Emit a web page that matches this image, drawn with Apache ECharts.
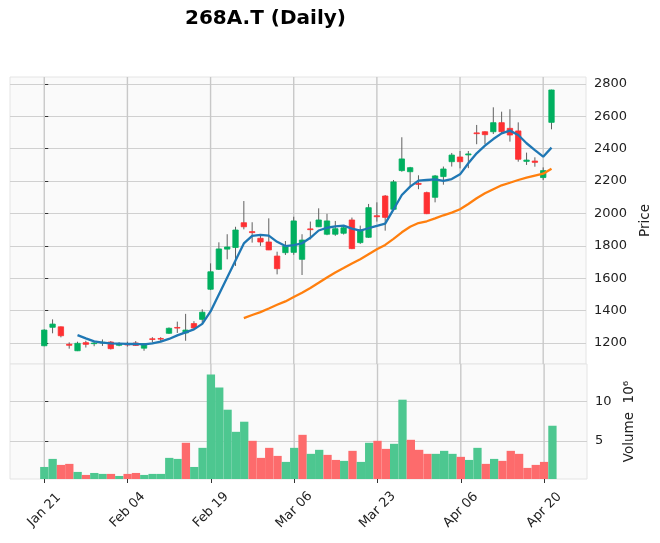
<!DOCTYPE html>
<html><head><meta charset="utf-8">
<script src="https://cdn.jsdelivr.net/npm/echarts@6/dist/echarts.min.js"></script>
<style>html,body{margin:0;padding:0;background:#fff}#c{width:660px;height:543px}</style>
</head><body><div id="c"></div>
<script>
const dates = [
 '2026-01-21','2026-01-22','2026-01-23','2026-01-26','2026-01-27','2026-01-28','2026-01-29','2026-01-30',
 '2026-02-02','2026-02-03','2026-02-04','2026-02-05','2026-02-06','2026-02-09','2026-02-10','2026-02-12',
 '2026-02-13','2026-02-16','2026-02-17','2026-02-18','2026-02-19','2026-02-20','2026-02-24','2026-02-25',
 '2026-02-26','2026-02-27','2026-03-02','2026-03-03','2026-03-04','2026-03-05','2026-03-06','2026-03-09',
 '2026-03-10','2026-03-11','2026-03-12','2026-03-13','2026-03-16','2026-03-17','2026-03-18','2026-03-19',
 '2026-03-23','2026-03-24','2026-03-25','2026-03-26','2026-03-27','2026-03-30','2026-03-31','2026-04-01',
 '2026-04-02','2026-04-03','2026-04-06','2026-04-07','2026-04-08','2026-04-09','2026-04-10','2026-04-13',
 '2026-04-14','2026-04-15','2026-04-16','2026-04-17','2026-04-20','2026-04-21'];
const opens  = [1183,1297,1300,1192,1152,1202,1196,1200,1206,1186,1196,1200,1168,1226,1228,1260,1296,1262,1320,1346,
                1532,1655,1780,1790,1943,1888,1847,1824,1737,1758,1760,1717,1905,1918,1872,1872,1878,1960,1820,1853,
                1986,2108,2026,2265,2258,2186,2129,2100,2228,2320,2349,2362,2498,2505,2505,2561,2526,2510,2322,2324,
                2222,2563];
const highs  = [1285,1346,1302,1204,1208,1214,1212,1222,1212,1205,1208,1212,1198,1236,1236,1296,1332,1380,1335,1408,
                1692,1822,1872,1918,2077,1946,1867,1970,1764,1830,1980,1872,1950,2032,1998,1954,1925,1975,1925,2059,
                2069,2114,2207,2471,2288,2236,2135,2238,2290,2374,2386,2386,2547,2508,2656,2629,2644,2563,2376,2347,
                2285,2765];
const lows   = [1180,1260,1235,1165,1150,1172,1180,1182,1160,1180,1178,1182,1152,1204,1205,1256,1262,1214,1290,1326,
                1527,1651,1717,1676,1902,1820,1800,1774,1624,1744,1745,1620,1840,1916,1866,1862,1870,1780,1812,1849,
                1950,1894,2022,2258,2162,2150,1996,2069,2178,2290,2279,2280,2428,2428,2491,2496,2444,2320,2300,2289,
                2207,2520];
const closes = [1280,1317,1245,1186,1198,1192,1200,1205,1165,1196,1188,1185,1196,1222,1224,1291,1293,1280,1293,1390,
                1640,1781,1793,1898,1918,1882,1824,1775,1659,1799,1954,1836,1900,1960,1954,1906,1912,1783,1898,2036,
                1980,1976,2195,2337,2283,2180,1999,2232,2275,2361,2320,2368,2493,2487,2561,2505,2485,2335,2330,2316,
                2265,2763];
// volume in millions of shares
const volumes = [1.69,2.71,1.95,2.08,1.06,0.68,0.93,0.81,0.81,0.55,0.81,0.93,0.68,0.81,0.81,2.84,2.71,4.75,1.69,4.11,
                13.39,11.74,8.94,6.14,7.42,5.00,2.84,4.11,3.09,2.33,4.11,5.76,3.35,3.86,3.22,2.58,2.46,3.73,2.33,4.75,
                5.00,3.98,4.62,10.21,5.13,3.86,3.35,3.35,3.73,3.35,2.97,2.58,4.11,2.08,2.71,2.46,3.73,3.35,1.57,1.95,
                2.33,6.91];
const ma5 = [null,null,null,null,1249,1229,1210,1202,1198,1196,1194,1194,1192,1198,1208,1225,1247,1266,1284,1318,
             1395,1500,1605,1710,1815,1862,1868,1863,1825,1799,1805,1816,1850,1895,1912,1920,1925,1907,1894,1909,
             1923,1937,2025,2114,2166,2203,2207,2211,2201,2213,2242,2310,2372,2419,2460,2495,2512,2485,2434,2392,
             2351,2407];
const ma25 = [null,null,null,null,null,null,null,null,null,null,null,null,null,null,null,null,null,null,null,null,
              null,null,null,null,1354,1373,1391,1413,1436,1457,1484,1511,1540,1572,1605,1636,1663,1691,1717,1748,
              1779,1806,1843,1884,1918,1941,1952,1970,1989,2005,2026,2059,2094,2125,2150,2174,2190,2207,2221,2234,
              2246,2277];
const priceTicks = [1200,1400,1600,1800,2000,2200,2400,2600,2800];
const volTicks = [5,10];
const xTickIdx = [0,10,20,30,40,50,60];

const MONTHS = ['Jan','Feb','Mar','Apr','May','Jun','Jul','Aug','Sep','Oct','Nov','Dec'];
function fmtDate(s){ const p = s.split('-'); return MONTHS[+p[1]-1] + ' ' + p[2]; }

const UP = '#00b060', DOWN = '#fe3032', WICK = '#606060';
const VUP = '#4dc790', VDOWN = '#fd6b6c';
const FONT = 'DejaVu Sans';
const GRIDC = '#d0d0d0';

const XMIN = -4.12, XMAX = 65.15;
const PMIN = 1070.3, PMAX = 2843.2;
const VMIN = 0.3*Math.min(...volumes), VMAX = 1.1*Math.max(...volumes);

const candleData = dates.map((d,i)=>[i, opens[i], closes[i], lows[i], highs[i]]);
const volData = volumes.map((v,i)=>{
  const up = i === 0 ? closes[0] > opens[0] : closes[i] > closes[i-1];
  return {value:[i, v], itemStyle:{color: up ? VUP : VDOWN}};
});
const ma5Data = ma5.map((v,i)=>[i,v]).filter(p=>p[1]!=null);
const ma25Data = ma25.map((v,i)=>[i,v]).filter(p=>p[1]!=null);

function renderCandle(params, api){
  const i = api.value(0), o = api.value(1), c = api.value(2), l = api.value(3), h = api.value(4);
  const pO = api.coord([i,o]), pC = api.coord([i,c]), pL = api.coord([i,l]), pH = api.coord([i,h]);
  const w = api.size([1,0])[0]*0.65;
  const col = c >= o ? UP : DOWN;
  const top = Math.min(pO[1], pC[1]);
  const hgt = Math.max(Math.abs(pO[1]-pC[1]), 0.6);
  return {type:'group', children:[
    {type:'line', shape:{x1:pH[0], y1:pH[1], x2:pL[0], y2:pL[1]}, style:{stroke:WICK, lineWidth:1}},
    {type:'rect', shape:{x:pO[0]-w/2, y:top, width:w, height:hgt}, style:{fill:col, stroke:col, lineWidth:0.8}}
  ]};
}
// vertical grid lines at the date ticks, positioned through the x scale
function renderVGrid(params, api){
  const v = api.value(0);
  const pLo = api.coord([v, api.value(1)]);
  const pHi = api.coord([v, api.value(2)]);
  return {type:'group', children:[
    {type:'line', shape:{x1:pLo[0], y1:pLo[1], x2:pHi[0], y2:pHi[1]},
     style:{stroke:'#c8c8c8', lineWidth:1.4}}
  ]};
}

const chart = echarts.init(document.getElementById('c'), null, {renderer:'canvas'});
chart.setOption({
  animation:false,
  backgroundColor:'#ffffff',
  title:{text:'268A.T (Daily)', left:180, top:4,
    textStyle:{fontFamily:FONT, fontSize:20, fontWeight:'bold', color:'#000'}},
  grid:[
    {left:10, top:77, width:577, height:287, show:true, backgroundColor:'#fafafa', borderColor:'#e4e4e4', borderWidth:1},
    {left:10, top:364, width:577, height:115, show:true, backgroundColor:'#fafafa', borderColor:'#e4e4e4', borderWidth:1}
  ],
  xAxis:[
    {type:'value', gridIndex:0, min:XMIN, max:XMAX,
     axisLine:{show:false}, axisTick:{show:false}, axisLabel:{show:false}, splitLine:{show:false}},
    {type:'value', gridIndex:1, min:XMIN, max:XMAX,
     axisLine:{show:false},
     axisTick:{show:true, length:4, customValues:xTickIdx, lineStyle:{color:'#333'}},
     axisLabel:{show:true, customValues:xTickIdx, formatter:(v)=>fmtDate(dates[Math.round(v)]),
       rotate:45, align:'center', verticalAlign:'middle', margin:31,
       fontFamily:FONT, fontSize:13, color:'#222'},
     splitLine:{show:false}}
  ],
  yAxis:[
    {type:'value', gridIndex:0, position:'right', min:PMIN, max:PMAX,
     axisLine:{show:false},
     axisTick:{show:true, length:4, customValues:priceTicks, lineStyle:{color:'#333'}},
     axisLabel:{customValues:priceTicks, margin:8, formatter:(v)=>String(v),
       fontFamily:FONT, fontSize:13, color:'#222'},
     splitLine:{show:true, lineStyle:{color:GRIDC, width:1.2}},
     name:'Price', nameLocation:'middle', nameRotate:90, nameGap:50,
     nameTextStyle:{fontFamily:FONT, fontSize:13.5, color:'#222'}},
    {type:'value', gridIndex:1, position:'right', min:VMIN, max:VMAX,
     axisLine:{show:false},
     axisTick:{show:true, length:4, customValues:volTicks, lineStyle:{color:'#333'}},
     axisLabel:{customValues:volTicks, margin:8, formatter:(v)=>String(v),
       fontFamily:FONT, fontSize:13, color:'#222'},
     splitLine:{show:true, lineStyle:{color:GRIDC, width:1.2}},
     name:'Volume  10\u2076', nameLocation:'middle', nameRotate:90, nameGap:34,
     nameTextStyle:{fontFamily:FONT, fontSize:13.5, color:'#222'}}
  ],
  series:[
    {type:'custom', name:'Price grid', xAxisIndex:0, yAxisIndex:0, z:2,
     data:xTickIdx.map(v=>[v, PMIN, PMAX]), encode:{x:0, y:[1,2]}, renderItem:renderVGrid},
    {type:'custom', name:'Volume grid', xAxisIndex:1, yAxisIndex:1, z:2,
     data:xTickIdx.map(v=>[v, VMIN, VMAX]), encode:{x:0, y:[1,2]}, renderItem:renderVGrid},
    {type:'custom', name:'OHLC', xAxisIndex:0, yAxisIndex:0, data:candleData,
     encode:{x:0, y:[1,2,3,4]}, renderItem:renderCandle, clip:true, z:3},
    {type:'line', name:'MA5', xAxisIndex:0, yAxisIndex:0, data:ma5Data, showSymbol:false, symbol:'none',
     lineStyle:{color:'#1f77b4', width:2.3}, z:4},
    {type:'line', name:'MA25', xAxisIndex:0, yAxisIndex:0, data:ma25Data, showSymbol:false, symbol:'none',
     lineStyle:{color:'#ff7f0e', width:2.3}, z:4},
    {type:'bar', name:'Volume', xAxisIndex:1, yAxisIndex:1, data:volData, barWidth:8.3, clip:true, z:3}
  ]
});
</script></body></html>
